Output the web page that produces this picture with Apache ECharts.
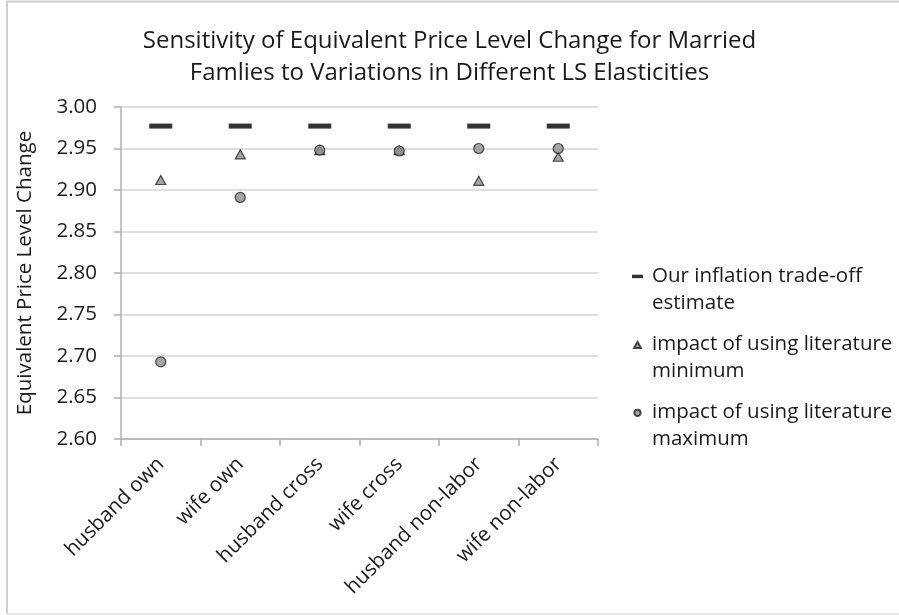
<!DOCTYPE html>
<html><head><meta charset="utf-8">
<script src="https://cdn.jsdelivr.net/npm/echarts@6/dist/echarts.min.js"></script>
<style>html,body{margin:0;padding:0;background:#fff}#c{width:899px;height:615px}</style>
</head><body><div id="c"></div>
<script>
var categories = ['husband own','wife own','husband cross','wife cross','husband non-labor','wife non-labor'];
var estimateVals = [2.977, 2.977, 2.977, 2.977, 2.977, 2.977];
var minVals = [2.912, 2.943, 2.948, 2.948, 2.911, 2.940];
var maxVals = [2.693, 2.891, 2.948, 2.947, 2.950, 2.950];
var seriesNames = ['Our inflation trade-off estimate','impact of using literature minimum','impact of using literature maximum'];
var legendLabels = ['Our inflation trade-off\nestimate','impact of using literature\nminimum','impact of using literature\nmaximum'];

var FONT = 'Open Sans';
var BODY = 20.5;
// legend icons: mark drawn at the top of a tall (invisible) box so it lines up with the first text line
var icoDash = 'path://M0,2.5 L16,2.5 L16,7.5 L0,7.5 Z M0,47';
var icoTri = 'path://M8,0 L13,9 L3,9 Z M0,47 M16,47';
var icoCirc = 'path://M8,0 A4.5,4.5 0 1 1 7.99,0 Z M0,47 M16,47';

var chart = echarts.init(document.getElementById('c'));
chart.setOption({
  backgroundColor:'#fff',
  animation:false,
  textStyle:{fontFamily:FONT},
  title:{
    text:'Sensitivity of Equivalent Price Level Change for Married\nFamlies to Variations in Different LS Elasticities',
    left:'center', top:20,
    textStyle:{fontFamily:FONT, fontSize:24, fontWeight:'normal', color:'#1a1a1a', lineHeight:32}
  },
  graphic:[
    {type:'line', shape:{x1:7,y1:1.5,x2:899,y2:1.5}, style:{stroke:'#cfcfcf',lineWidth:2}, silent:true},
    {type:'line', shape:{x1:7,y1:1,x2:7,y2:614}, style:{stroke:'#cfcfcf',lineWidth:2}, silent:true},
    {type:'line', shape:{x1:7,y1:614,x2:899,y2:614}, style:{stroke:'#dedede',lineWidth:1.5}, silent:true}
  ],
  grid:{left:121, right:301, top:107, bottom:176},
  legend:{
    orient:'vertical', left:626, top:258, itemGap:14, itemWidth:11, itemHeight:33,
    formatter:function(n){return legendLabels[seriesNames.indexOf(n)];},
    textStyle:{fontFamily:FONT, fontSize:BODY, color:'#1a1a1a', lineHeight:27, padding:[0,0,0,4]},
    data:[
      {name:seriesNames[0], icon:icoDash},
      {name:seriesNames[1], icon:icoTri},
      {name:seriesNames[2], icon:icoCirc}
    ]
  },
  xAxis:{
    type:'category', data:categories, boundaryGap:true,
    axisLine:{lineStyle:{color:'#b0b0b0', width:1.5}},
    axisTick:{show:true, length:7, lineStyle:{color:'#b0b0b0', width:1.5}},
    axisLabel:{rotate:45, fontSize:BODY, color:'#1a1a1a', margin:22, interval:0},
    splitLine:{show:false}
  },
  yAxis:{
    type:'value', min:2.6, max:3.0, interval:0.05,
    name:'Equivalent Price Level Change', nameLocation:'middle', nameGap:85,
    nameTextStyle:{fontSize:BODY, color:'#1a1a1a'},
    axisLine:{show:true, lineStyle:{color:'#b0b0b0', width:1.5}},
    axisTick:{show:true, length:7, lineStyle:{color:'#b0b0b0', width:1.5}},
    axisLabel:{fontSize:BODY, color:'#1a1a1a', margin:24, formatter:function(v){return v.toFixed(2);}},
    splitLine:{lineStyle:{color:'#d4d4d4', width:1.5}}
  },
  series:[
    {name:seriesNames[0], type:'scatter', data:estimateVals, symbol:'rect', symbolSize:[23,5],
     itemStyle:{color:'#000'}, z:3},
    {name:seriesNames[1], type:'scatter', data:minVals, symbol:'triangle', symbolSize:[10,9],
     itemStyle:{color:'#8e8e8e', borderColor:'#222', borderWidth:1.2}, z:4},
    {name:seriesNames[2], type:'scatter', data:maxVals, symbol:'circle', symbolSize:10,
     itemStyle:{color:'#8e8e8e', borderColor:'#222', borderWidth:1.2}, z:5}
  ]
});
</script></body></html>
